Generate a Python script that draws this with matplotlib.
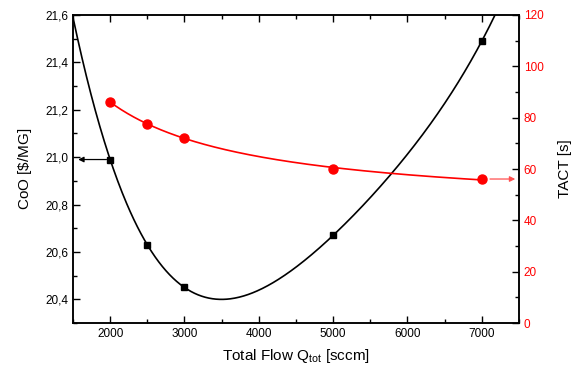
import numpy as np
import matplotlib
matplotlib.use("Agg")
import matplotlib.pyplot as plt
import matplotlib.ticker as mticker

plt.rcParams["font.family"] = ["Liberation Sans", "DejaVu Sans"]
plt.rcParams["mathtext.fontset"] = "custom"
plt.rcParams["mathtext.rm"] = "Liberation Sans"
plt.rcParams["mathtext.it"] = "Liberation Sans"

# ── DATA ──────────────────────────────────────────────────────────────────────
flow = [2000, 2500, 3000, 5000, 7000]
coo = [20.99, 20.63, 20.45, 20.67, 21.49]
tact = [86.1, 77.5, 72.1, 60.1, 56.1]

# ── FITS ──────────────────────────────────────────────────────────────────────
x = np.array(flow, dtype=float) / 1000
coo_fit = np.polyfit(x, coo, 4)
A = np.column_stack([np.ones_like(x), 1.0 / x])
tact_coef, *_ = np.linalg.lstsq(A, np.array(tact), rcond=None)

xs_black = np.linspace(1500, 7500, 500)
xs_red = np.linspace(2000, 7000, 300)

# ── PLOT ──────────────────────────────────────────────────────────────────────
fig = plt.figure(figsize=(5.72, 3.73), dpi=100)
ax = fig.add_axes([0.1276, 0.134, 0.7797, 0.8258])
ax2 = ax.twinx()

ax.plot(xs_black, np.polyval(coo_fit, xs_black / 1000), color="black", lw=1.2)
ax.plot(flow, coo, "s", color="black", ms=5)

ax2.plot(xs_red, tact_coef[0] + tact_coef[1] * 1000 / xs_red, color="red", lw=1.2)
ax2.plot(flow, tact, "o", color="red", ms=6.5)

# arrows pointing to each axis
ax.annotate("", xy=(1570, coo[0]), xytext=(1950, coo[0]),
            arrowprops=dict(arrowstyle="-|>", color="black", lw=0.9,
                            mutation_scale=8, shrinkA=0, shrinkB=0))
ax2.annotate("", xy=(7450, tact[-1]), xytext=(7110, tact[-1]),
             arrowprops=dict(arrowstyle="-|>", color="#ff5050", lw=0.9,
                             mutation_scale=8, shrinkA=0, shrinkB=0))

ax.set_xlim(1500, 7500)
ax.set_ylim(20.3, 21.6)
ax2.set_ylim(0, 120)

ax.xaxis.set_major_locator(mticker.MultipleLocator(1000))
ax.xaxis.set_minor_locator(mticker.MultipleLocator(500))
ax.yaxis.set_major_locator(mticker.MultipleLocator(0.2))
ax.yaxis.set_minor_locator(mticker.MultipleLocator(0.1))
ax.yaxis.set_major_formatter(mticker.FuncFormatter(lambda v, p: f"{v:.1f}".replace(".", ",")))
ax2.yaxis.set_major_locator(mticker.MultipleLocator(20))
ax2.yaxis.set_minor_locator(mticker.MultipleLocator(10))

ax.tick_params(which="both", direction="in", top=True, labelsize=8.5, width=1)
ax.tick_params(which="major", length=5)
ax.tick_params(which="minor", length=3)
ax2.tick_params(which="both", direction="in", labelsize=8.5, labelcolor="red", width=1)
ax2.tick_params(which="major", length=5)
ax2.tick_params(which="minor", length=3)

for a in (ax, ax2):
    for s in a.spines.values():
        s.set_linewidth(1.1)

ax.set_xlabel("Total Flow Q$_{\\mathrm{tot}}$ [sccm]", fontsize=11, labelpad=5)
ax.set_ylabel("CoO [$\\$$/MG]", fontsize=11, labelpad=8)
ax2.set_ylabel("TACT [s]", fontsize=11, labelpad=10)

fig.savefig("out.png", dpi=100)
